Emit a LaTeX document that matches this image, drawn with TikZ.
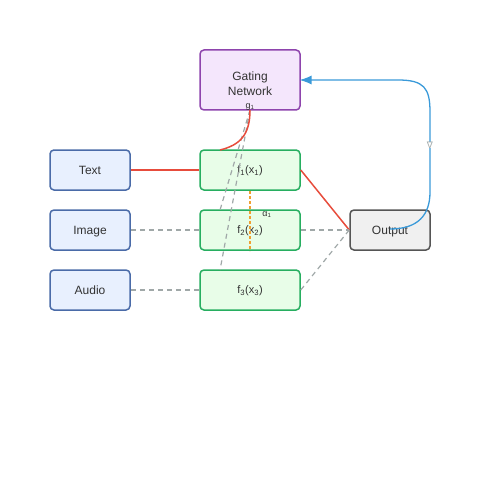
\documentclass[tikz,border=0pt]{standalone}
\usepackage{fontspec}
\setmainfont{Liberation Sans}
\newfontfamily\dv{DejaVu Sans}
\usetikzlibrary{arrows.meta}
\definecolor{txt}{HTML}{333333}
\definecolor{inFill}{HTML}{E8F0FE}
\definecolor{inDraw}{HTML}{4A6BA8}
\definecolor{exFill}{HTML}{E8FDE8}
\definecolor{exDraw}{HTML}{27AE60}
\definecolor{gFill}{HTML}{F4E6FC}
\definecolor{gDraw}{HTML}{8E44AD}
\definecolor{oFill}{HTML}{F0F0F0}
\definecolor{oDraw}{HTML}{555555}
\definecolor{act}{HTML}{E74C3C}
\definecolor{idle}{HTML}{A0A8A8}
\definecolor{fb}{HTML}{3A9AD9}
\definecolor{wt}{HTML}{F0A030}
\tikzset{
  box/.style={draw, line width=1.5pt, rounded corners=4pt, inner sep=0pt, text=txt, font=\fontsize{12}{15}\selectfont, align=center, text depth=0pt},
  inbox/.style={box, fill=inFill, draw=inDraw, minimum width=80pt, minimum height=40pt},
  exbox/.style={box, fill=exFill, draw=exDraw, minimum width=100pt, minimum height=40pt, font=\fontsize{11}{13}\selectfont},
  gbox/.style={box, fill=gFill, draw=gDraw, minimum width=100pt, minimum height=60pt},
  obox/.style={box, fill=oFill, draw=oDraw, minimum width=80pt, minimum height=40pt},
  actline/.style={draw=act, line width=1.5pt},
  idleline/.style={draw=idle, line width=1.2pt, dash pattern=on 5pt off 4pt},
  small/.style={font=\fontsize{9}{10}\selectfont, text=txt, inner sep=0pt},
}
\begin{document}
\begin{tikzpicture}[x=1pt,y=-1pt]
\useasboundingbox (0,0) rectangle (500,500);
\node[gbox] (gate) at (250,80) {};
\node[text=txt, font=\fontsize{12}{15}\selectfont, align=center, inner sep=0pt] (gatetxt) at (250,83.5) {Gating\\Network};
\node[inbox] (text) at (90,170) {Text};
\node[inbox] (image) at (90,230) {Image};
\node[inbox] (audio) at (90,290) {Audio};
\node[exbox] (e1) at (250,170) {f\textsubscript{1}(x\textsubscript{1})};
\node[exbox] (e2) at (250,230) {f\textsubscript{2}(x\textsubscript{2})};
\node[exbox] (e3) at (250,290) {f\textsubscript{3}(x\textsubscript{3})};
\node[obox] (out) at (390,230) {Output};
\coordinate (gb) at (250,110);
\coordinate (e1t) at (220,150);
\coordinate (e2t) at (220,210);
\coordinate (e3t) at (220,270);
\coordinate (fbs) at (390,229);
\coordinate (gin) at (299.5,80);
% inputs
\draw[actline] (text.east) -- (e1.west);
\draw[idleline] (image.east) -- (e2.west);
\draw[idleline] (audio.east) -- (e3.west);
% to output
\draw[actline] (e1.east) -- (out.west);
\draw[idleline] (e2.east) -- (out.west);
\draw[idleline] (e3.east) -- (out.west);
% gating
\draw[idleline] (gb) -- (e2t);
\draw[idleline] (gb) -- (e3t);
\draw[actline] (gb) .. controls (250,135) and (240,145) .. (e1t);
\draw[draw=wt, line width=1.3pt, dash pattern=on 3pt off 2pt] (e1.south) -- (e2.south);
\node[small] (alab) at (267,215) {α\textsubscript{1}};
\node[small, anchor=south] (glab) at (250,111) {g\textsubscript{1}};
% feedback
\draw[draw=fb, line width=1.3pt, -{Latex[length=12pt,width=9pt]}]
  (fbs) .. controls (418,229) and (430,215) .. (430,192) -- (430,112)
  .. controls (430,88) and (424,80) .. (398,80) -- (gin);
\node[small, text=idle, fill=white] (flab) at (430,145) {\dv ∇};
\end{tikzpicture}
\end{document}
